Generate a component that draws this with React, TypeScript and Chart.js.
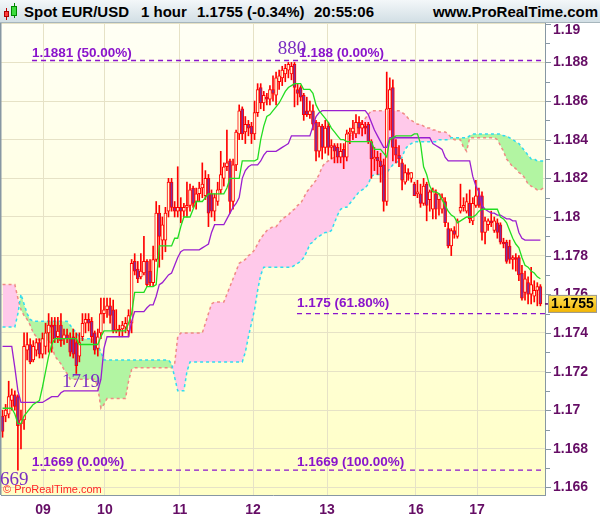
import React, { useEffect, useRef } from 'react';
import { Chart, registerables } from 'chart.js';

Chart.register(...registerables);

// ---- Candles (hourly EUR/USD) ----
const OPEN = [
  1.1697, 1.1697, 1.1698, 1.1705, 1.1708, 1.1707, 1.1693, 1.1695, 1.1731, 1.1734,
  1.1726, 1.1731, 1.1735, 1.1729, 1.1733, 1.1740, 1.1744, 1.1744, 1.1738, 1.1744,
  1.1737, 1.1739, 1.1737, 1.1738, 1.1735, 1.1728, 1.1738, 1.1745, 1.1747, 1.1746,
  1.1740, 1.1732, 1.1740, 1.1750, 1.1752, 1.1754, 1.1752, 1.1741, 1.1742, 1.1742,
  1.1743, 1.1741, 1.1745, 1.1777, 1.1773, 1.1769, 1.1771, 1.1777, 1.1772, 1.1766,
  1.1778, 1.1802, 1.1788, 1.1788, 1.1803, 1.1818, 1.1805, 1.1803, 1.1805, 1.1803,
  1.1805, 1.1806, 1.1815, 1.1808, 1.1812, 1.1815, 1.1811, 1.1820, 1.1812, 1.1803,
  1.1808, 1.1814, 1.1820, 1.1826, 1.1829, 1.1808, 1.1827, 1.1843, 1.1856, 1.1844,
  1.1848, 1.1847, 1.1843, 1.1854, 1.1867, 1.1859, 1.1862, 1.1861, 1.1866, 1.1863,
  1.1870, 1.1872, 1.1874, 1.1876, 1.1874, 1.1879, 1.1866, 1.1867, 1.1863, 1.1855,
  1.1853, 1.1855, 1.1849, 1.1834, 1.1847, 1.1836, 1.1847, 1.1836, 1.1837, 1.1836,
  1.1831, 1.1835, 1.1831, 1.1843, 1.1844, 1.1843, 1.1849, 1.1846, 1.1847, 1.1848,
  1.1839, 1.1830, 1.1831, 1.1829, 1.1827, 1.1808, 1.1856, 1.1867, 1.1836, 1.1832,
  1.1828, 1.1818, 1.1823, 1.1820, 1.1817, 1.1812, 1.1812, 1.1807, 1.1817, 1.1809,
  1.1804, 1.1812, 1.1809, 1.1804, 1.1808, 1.1794, 1.1785, 1.1793, 1.1790, 1.1803,
  1.1805, 1.1803, 1.1807, 1.1798, 1.1806, 1.1811, 1.1811, 1.1792, 1.1796, 1.1798,
  1.1793, 1.1797, 1.1796, 1.1787, 1.1787, 1.1785, 1.1778, 1.1779, 1.1779, 1.1771,
  1.1761, 1.1766, 1.1760, 1.1759, 1.1762, 1.1764,
];
const HIGH = [
  1.1700, 1.1703, 1.1715, 1.1711, 1.1710, 1.1708, 1.1700, 1.1740, 1.1740, 1.1737,
  1.1736, 1.1737, 1.1737, 1.1740, 1.1745, 1.1750, 1.1748, 1.1748, 1.1748, 1.1750,
  1.1742, 1.1742, 1.1740, 1.1742, 1.1740, 1.1740, 1.1750, 1.1750, 1.1750, 1.1748,
  1.1741, 1.1742, 1.1758, 1.1758, 1.1758, 1.1758, 1.1757, 1.1752, 1.1744, 1.1746,
  1.1748, 1.1752, 1.1778, 1.1781, 1.1777, 1.1781, 1.1790, 1.1778, 1.1778, 1.1785,
  1.1808, 1.1806, 1.1800, 1.1805, 1.1820, 1.1820, 1.1808, 1.1826, 1.1810, 1.1807,
  1.1818, 1.1817, 1.1816, 1.1815, 1.1818, 1.1828, 1.1824, 1.1822, 1.1814, 1.1812,
  1.1818, 1.1834, 1.1828, 1.1845, 1.1830, 1.1830, 1.1845, 1.1858, 1.1857, 1.1852,
  1.1850, 1.1849, 1.1860, 1.1869, 1.1869, 1.1865, 1.1864, 1.1868, 1.1873, 1.1875,
  1.1876, 1.1878, 1.1879, 1.1880, 1.1880, 1.1880, 1.1869, 1.1868, 1.1864, 1.1862,
  1.1860, 1.1858, 1.1850, 1.1849, 1.1848, 1.1850, 1.1849, 1.1840, 1.1838, 1.1838,
  1.1838, 1.1838, 1.1845, 1.1846, 1.1850, 1.1853, 1.1852, 1.1850, 1.1849, 1.1849,
  1.1840, 1.1836, 1.1834, 1.1833, 1.1830, 1.1875, 1.1872, 1.1871, 1.1840, 1.1837,
  1.1830, 1.1827, 1.1825, 1.1823, 1.1818, 1.1819, 1.1817, 1.1820, 1.1818, 1.1814,
  1.1815, 1.1814, 1.1812, 1.1812, 1.1810, 1.1797, 1.1794, 1.1795, 1.1799, 1.1817,
  1.1810, 1.1812, 1.1814, 1.1810, 1.1819, 1.1815, 1.1813, 1.1800, 1.1799, 1.1803,
  1.1800, 1.1799, 1.1797, 1.1789, 1.1788, 1.1788, 1.1780, 1.1781, 1.1780, 1.1775,
  1.1772, 1.1769, 1.1774, 1.1767, 1.1766, 1.1765,
];
const LOW = [
  1.1686, 1.1694, 1.1696, 1.1700, 1.1700, 1.1669, 1.1680, 1.1690, 1.1726, 1.1724,
  1.1725, 1.1728, 1.1727, 1.1727, 1.1729, 1.1730, 1.1730, 1.1735, 1.1735, 1.1733,
  1.1734, 1.1735, 1.1728, 1.1727, 1.1719, 1.1725, 1.1736, 1.1740, 1.1741, 1.1735,
  1.1729, 1.1728, 1.1737, 1.1745, 1.1748, 1.1745, 1.1740, 1.1740, 1.1738, 1.1738,
  1.1740, 1.1738, 1.1740, 1.1770, 1.1766, 1.1768, 1.1770, 1.1764, 1.1764, 1.1764,
  1.1777, 1.1774, 1.1778, 1.1782, 1.1800, 1.1803, 1.1800, 1.1800, 1.1797, 1.1800,
  1.1800, 1.1803, 1.1805, 1.1804, 1.1808, 1.1810, 1.1809, 1.1795, 1.1800, 1.1798,
  1.1806, 1.1812, 1.1816, 1.1824, 1.1802, 1.1804, 1.1824, 1.1840, 1.1840, 1.1838,
  1.1842, 1.1838, 1.1840, 1.1852, 1.1856, 1.1855, 1.1858, 1.1858, 1.1860, 1.1858,
  1.1866, 1.1868, 1.1870, 1.1872, 1.1871, 1.1857, 1.1858, 1.1860, 1.1850, 1.1852,
  1.1851, 1.1845, 1.1829, 1.1831, 1.1830, 1.1833, 1.1832, 1.1830, 1.1828, 1.1828,
  1.1828, 1.1825, 1.1829, 1.1838, 1.1840, 1.1841, 1.1843, 1.1842, 1.1843, 1.1838,
  1.1820, 1.1824, 1.1822, 1.1818, 1.1803, 1.1806, 1.1845, 1.1829, 1.1828, 1.1826,
  1.1814, 1.1817, 1.1819, 1.1818, 1.1811, 1.1810, 1.1805, 1.1806, 1.1798, 1.1803,
  1.1799, 1.1799, 1.1801, 1.1802, 1.1795, 1.1784, 1.1780, 1.1789, 1.1789, 1.1802,
  1.1803, 1.1802, 1.1797, 1.1796, 1.1805, 1.1805, 1.1788, 1.1786, 1.1793, 1.1795,
  1.1792, 1.1789, 1.1786, 1.1784, 1.1776, 1.1776, 1.1773, 1.1772, 1.1767, 1.1757,
  1.1757, 1.1755, 1.1755, 1.1756, 1.1754, 1.1754,
];
const CLOSE = [
  1.1689, 1.1700, 1.1707, 1.1708, 1.1702, 1.1692, 1.1695, 1.1733, 1.1734, 1.1725,
  1.1733, 1.1735, 1.1729, 1.1737, 1.1740, 1.1744, 1.1743, 1.1737, 1.1741, 1.1736,
  1.1739, 1.1737, 1.1730, 1.1729, 1.1723, 1.1735, 1.1745, 1.1747, 1.1745, 1.1738,
  1.1731, 1.1738, 1.1750, 1.1752, 1.1754, 1.1749, 1.1741, 1.1742, 1.1741, 1.1744,
  1.1745, 1.1749, 1.1776, 1.1772, 1.1768, 1.1772, 1.1777, 1.1765, 1.1766, 1.1778,
  1.1802, 1.1790, 1.1796, 1.1802, 1.1818, 1.1805, 1.1803, 1.1805, 1.1803, 1.1805,
  1.1806, 1.1814, 1.1807, 1.1812, 1.1815, 1.1817, 1.1820, 1.1802, 1.1803, 1.1810,
  1.1814, 1.1822, 1.1826, 1.1828, 1.1808, 1.1827, 1.1844, 1.1855, 1.1843, 1.1848,
  1.1846, 1.1843, 1.1854, 1.1866, 1.1859, 1.1863, 1.1861, 1.1866, 1.1864, 1.1872,
  1.1873, 1.1876, 1.1877, 1.1879, 1.1878, 1.1867, 1.1864, 1.1862, 1.1853, 1.1853,
  1.1855, 1.1848, 1.1834, 1.1847, 1.1836, 1.1846, 1.1836, 1.1837, 1.1834, 1.1831,
  1.1834, 1.1831, 1.1843, 1.1844, 1.1846, 1.1849, 1.1846, 1.1848, 1.1846, 1.1839,
  1.1830, 1.1831, 1.1829, 1.1826, 1.1808, 1.1856, 1.1866, 1.1836, 1.1832, 1.1830,
  1.1819, 1.1823, 1.1822, 1.1823, 1.1811, 1.1813, 1.1807, 1.1816, 1.1806, 1.1813,
  1.1814, 1.1804, 1.1812, 1.1810, 1.1797, 1.1785, 1.1793, 1.1791, 1.1798, 1.1805,
  1.1806, 1.1808, 1.1799, 1.1807, 1.1811, 1.1806, 1.1792, 1.1798, 1.1798, 1.1797,
  1.1798, 1.1792, 1.1787, 1.1786, 1.1777, 1.1778, 1.1779, 1.1778, 1.1770, 1.1758,
  1.1768, 1.1760, 1.1765, 1.1762, 1.1764, 1.1755,
];

// ---- Ichimoku lines ----
const TENKAN = [
  1.1701, 1.1701, 1.1701, 1.1701, 1.1698, 1.1693, 1.1693, 1.1697, 1.1699, 1.1701,
  1.1703, 1.1704, 1.1705, 1.1712, 1.1720, 1.1728, 1.1734, 1.1737, 1.1737, 1.1737,
  1.1737, 1.1737, 1.1737, 1.1737, 1.1737, 1.1734, 1.1734, 1.1734, 1.1734, 1.1734,
  1.1734, 1.1734, 1.1738, 1.1741, 1.1741, 1.1741, 1.1741, 1.1741, 1.1741, 1.1741,
  1.1741, 1.1745, 1.1750, 1.1761, 1.1761, 1.1761, 1.1761, 1.1764, 1.1764, 1.1764,
  1.1765, 1.1785, 1.1785, 1.1785, 1.1785, 1.1785, 1.1789, 1.1789, 1.1795, 1.1800,
  1.1800, 1.1800, 1.1804, 1.1808, 1.1808, 1.1808, 1.1810, 1.1812, 1.1812, 1.1812,
  1.1812, 1.1812, 1.1812, 1.1815, 1.1820, 1.1820, 1.1820, 1.1820, 1.1829, 1.1829,
  1.1829, 1.1829, 1.1829, 1.1830, 1.1840, 1.1847, 1.1852, 1.1853, 1.1855, 1.1857,
  1.1859, 1.1862, 1.1865, 1.1867, 1.1868, 1.1869, 1.1869, 1.1869, 1.1866, 1.1866,
  1.1866, 1.1864, 1.1858, 1.1855, 1.1853, 1.1851, 1.1849, 1.1846, 1.1844, 1.1842,
  1.1840, 1.1840, 1.1839, 1.1839, 1.1839, 1.1839, 1.1839, 1.1839, 1.1839, 1.1839,
  1.1839, 1.1835, 1.1835, 1.1835, 1.1833, 1.1831, 1.1840, 1.1841, 1.1842, 1.1842,
  1.1842, 1.1842, 1.1842, 1.1842, 1.1843, 1.1843, 1.1838, 1.1826, 1.1822, 1.1816,
  1.1813, 1.1813, 1.1812, 1.1809, 1.1806, 1.1803, 1.1801, 1.1800, 1.1797, 1.1798,
  1.1799, 1.1800, 1.1800, 1.1800, 1.1801, 1.1803, 1.1804, 1.1804, 1.1804, 1.1804,
  1.1804, 1.1804, 1.1800, 1.1799, 1.1797, 1.1793, 1.1789, 1.1786, 1.1784, 1.1779,
  1.1775, 1.1774, 1.1772, 1.1771, 1.1769, 1.1768,
];
const KIJUN = [
  1.1733, 1.1733, 1.1733, 1.1733, 1.1722, 1.1710, 1.1704, 1.1704, 1.1704, 1.1704,
  1.1704, 1.1704, 1.1704, 1.1704, 1.1705, 1.1706, 1.1707, 1.1707, 1.1707, 1.1709,
  1.1710, 1.1710, 1.1710, 1.1710, 1.1710, 1.1710, 1.1710, 1.1710, 1.1710, 1.1710,
  1.1710, 1.1710, 1.1716, 1.1732, 1.1738, 1.1738, 1.1738, 1.1738, 1.1738, 1.1738,
  1.1738, 1.1738, 1.1746, 1.1751, 1.1751, 1.1751, 1.1751, 1.1753, 1.17545, 1.17545,
  1.1759, 1.1765, 1.1766, 1.1768, 1.1770, 1.1771, 1.1775, 1.1779, 1.1782, 1.1783,
  1.1783, 1.1783, 1.1783, 1.1783, 1.1783, 1.1784, 1.1785, 1.1786, 1.1792, 1.1796,
  1.1796, 1.1796, 1.1796, 1.1799, 1.1802, 1.1805, 1.1807, 1.1810, 1.1820, 1.1824,
  1.1826, 1.1827, 1.1827, 1.1827, 1.1829, 1.1832, 1.1834, 1.1834, 1.1834, 1.1834,
  1.1835, 1.1836, 1.1837, 1.1838, 1.1842, 1.1842, 1.1842, 1.1842, 1.1842, 1.1842,
  1.1842, 1.1847, 1.1852, 1.1854, 1.1855, 1.1855, 1.1855, 1.1855, 1.1855, 1.1855,
  1.1855, 1.1855, 1.1855, 1.1855, 1.1855, 1.1855, 1.1855, 1.1855, 1.1855, 1.1853,
  1.1849, 1.1845, 1.1842, 1.1839, 1.1836, 1.1836, 1.1841, 1.1841, 1.1841, 1.1841,
  1.1841, 1.1841, 1.1841, 1.1841, 1.1841, 1.1841, 1.1841, 1.1841, 1.1841, 1.1841,
  1.1838, 1.1837, 1.1836, 1.1835, 1.1831, 1.1829, 1.1829, 1.1829, 1.1829, 1.1829,
  1.1829, 1.1829, 1.1829, 1.1821, 1.1816, 1.1813, 1.1806, 1.1804, 1.1803, 1.1802,
  1.1802, 1.1801, 1.1801, 1.1800, 1.1799, 1.1799, 1.1798, 1.1798, 1.1792, 1.1789,
  1.1788, 1.1788, 1.1788, 1.1788, 1.1788, 1.1788,
];
const SENKOU_A = [
  1.1743, 1.1743, 1.1743, 1.1743, 1.1743, 1.1750, 1.1760, 1.1755, 1.1750, 1.1747,
  1.1746, 1.1746, 1.1746, 1.1746, 1.1746, 1.1746, 1.1746, 1.1746, 1.1746, 1.1746,
  1.1746, 1.1746, 1.1744, 1.1742, 1.1740, 1.1738, 1.1737, 1.1737, 1.1737, 1.1737,
  1.1737, 1.1734, 1.1730, 1.1726, 1.1726, 1.1726, 1.1726, 1.1726, 1.1726, 1.1726,
  1.1726, 1.1726, 1.1726, 1.1726, 1.1726, 1.1726, 1.1726, 1.1726, 1.1726, 1.1726,
  1.1726, 1.1726, 1.1726, 1.1726, 1.1726, 1.1724, 1.1717, 1.1710, 1.1710, 1.1710,
  1.1720, 1.1725, 1.1725, 1.1725, 1.1725, 1.1725, 1.1725, 1.1725, 1.1725, 1.1725,
  1.1725, 1.1725, 1.1725, 1.1725, 1.1725, 1.1725, 1.1725, 1.1725, 1.1725, 1.1730,
  1.1738, 1.1745, 1.1752, 1.1762, 1.1770, 1.1774, 1.1774, 1.1774, 1.1774, 1.1774,
  1.1774, 1.1774, 1.1774, 1.1774, 1.1774, 1.1775, 1.1776, 1.1777, 1.1779, 1.1782,
  1.1786, 1.1787, 1.1789, 1.1790, 1.1791, 1.1792, 1.1792, 1.1793, 1.1797, 1.1801,
  1.1804, 1.1805, 1.1805, 1.1807, 1.1809, 1.1811, 1.1813, 1.1814, 1.1815, 1.1817,
  1.1821, 1.1822, 1.1822, 1.1822, 1.1822, 1.1823, 1.1825, 1.1827, 1.1828, 1.1829,
  1.1831, 1.1835, 1.1837, 1.1838, 1.1839, 1.1839, 1.1839, 1.1839, 1.1839, 1.1839,
  1.1839, 1.1839, 1.1840, 1.1840, 1.1840, 1.1840, 1.1841, 1.1841, 1.1841, 1.1841,
  1.1841, 1.1841, 1.1842, 1.1843, 1.1843, 1.1843, 1.1843, 1.1843, 1.1843, 1.1843,
  1.1843, 1.1843, 1.1843, 1.1842, 1.1842, 1.1841, 1.1840, 1.1839, 1.1838, 1.1836,
  1.1834, 1.1832, 1.1830, 1.1830, 1.1829, 1.1829, 1.1829,
];
const SENKOU_B = [
  1.1765, 1.1765, 1.1765, 1.1765, 1.1765, 1.1758, 1.1752, 1.1749, 1.1747, 1.1744,
  1.1740, 1.1738, 1.1736, 1.1736, 1.1736, 1.1736, 1.1734, 1.1728, 1.1726, 1.1724,
  1.1721, 1.1719, 1.1716, 1.1716, 1.1716, 1.1716, 1.1716, 1.1716, 1.1716, 1.1716,
  1.1716, 1.1712, 1.1701, 1.1703, 1.1706, 1.1706, 1.1706, 1.1706, 1.1706, 1.1706,
  1.1706, 1.1715, 1.1721, 1.1722, 1.1722, 1.1722, 1.1722, 1.1722, 1.1722, 1.1722,
  1.1722, 1.1722, 1.1722, 1.1722, 1.1722, 1.1722, 1.1724, 1.1738, 1.1740, 1.1740,
  1.1740, 1.1740, 1.1740, 1.1740, 1.1740, 1.1740, 1.1745, 1.1750, 1.1755, 1.1756,
  1.1756, 1.1756, 1.1756, 1.1760, 1.1764, 1.1768, 1.1772, 1.1776, 1.1777, 1.1778,
  1.1780, 1.1781, 1.1783, 1.1786, 1.1789, 1.1791, 1.1793, 1.1794, 1.1795, 1.1795,
  1.1797, 1.1799, 1.1800, 1.1801, 1.1803, 1.1804, 1.1806, 1.1807, 1.1810, 1.1813,
  1.1815, 1.1817, 1.1819, 1.1822, 1.1826, 1.1828, 1.1829, 1.1830, 1.1831, 1.1832,
  1.1833, 1.1834, 1.1840, 1.1842, 1.1843, 1.1845, 1.1847, 1.1849, 1.1851, 1.1853,
  1.1855, 1.1855, 1.1855, 1.1855, 1.1855, 1.1855, 1.1855, 1.1855, 1.1855, 1.1855,
  1.1854, 1.1853, 1.1851, 1.1850, 1.1849, 1.1848, 1.1848, 1.1847, 1.1846, 1.1846,
  1.1845, 1.1845, 1.1844, 1.1844, 1.1844, 1.1843, 1.1841, 1.1840, 1.1840, 1.1840,
  1.1836, 1.1834, 1.1841, 1.1841, 1.1841, 1.1841, 1.1841, 1.1841, 1.1841, 1.1841,
  1.1841, 1.1840, 1.1837, 1.1834, 1.1830, 1.1828, 1.1826, 1.1825, 1.1823, 1.1822,
  1.1820, 1.1817, 1.1816, 1.1815, 1.1814, 1.1814, 1.1815,
];

// ---- Axes ----
const DAY_TICKS = [13.2, 33.3, 57.7, 81.5, 105.6, 134.5, 154.4];
const DAY_LABELS = ['09', '10', '11', '12', '13', '16', '17'];
const PRICE_TICKS = [1.166, 1.168, 1.17, 1.172, 1.174, 1.176, 1.178, 1.18, 1.182, 1.184, 1.186, 1.188, 1.19];
const MINOR_TICKS = [1.167, 1.169, 1.171, 1.173, 1.175, 1.177, 1.179, 1.181, 1.183, 1.185, 1.187, 1.189];
const X_MIN = -0.5;
const X_MAX = 176.5;
const Y_MIN = 1.16561;
const Y_MAX = 1.19004;
const LAST_PRICE = 1.1755;

// ---- Fibonacci / annotations ----
const FIB_LINES = [
  { level: 1.1881, start: 9.6 },
  { level: 1.175, start: 95.8 },
  { level: 1.1669, start: 9.6 },
];
const FIB_LABELS = [
  { text: '1.1881 (50.00%)', x: 9.6, y: 1.18848 },
  { text: '1.188 (0.00%)', x: 96.5, y: 1.18848 },
  { text: '1.175 (61.80%)', x: 95.8, y: 1.17552 },
  { text: '1.1669 (0.00%)', x: 9.6, y: 1.16732 },
  { text: '1.1669 (100.00%)', x: 95.8, y: 1.16732 },
];
const EXTREME_LABELS = [
  { text: '880', x: 94.2, y: 1.18869, align: 'center' },
  { text: '1719', x: 25.5, y: 1.17146, align: 'center' },
  { text: '669', x: -0.83, y: 1.16639, align: 'left' },
];

const AXIS_TEXT = '#650d65';
const FIB_COLOR = '#8a14cc';
const GRID = '#e6e2c6';
const SANS = '"Liberation Sans", Arial, sans-serif';

export default function App() {
  const ref = useRef<HTMLCanvasElement>(null);

  useEffect(() => {
    document.body.style.margin = '0';
    const canvas = ref.current;
    if (!canvas) return;

    const wick = OPEN.map((_o, i) => ({ x: i, y: [LOW[i], HIGH[i]] }));
    const body = OPEN.map((o, i) => {
      const lo = Math.min(o, CLOSE[i]);
      let hi = Math.max(o, CLOSE[i]);
      if (hi - lo < 0.00004) hi = lo + 0.00004;
      return { x: i, y: [lo, hi] };
    });
    const line = (arr: number[]) => arr.map((v, i) => ({ x: i, y: v }));

    const bgPlugin = {
      id: 'bgPlugin',
      beforeDraw(chart: any) {
        const { ctx, chartArea: a, width, height } = chart;
        ctx.save();
        ctx.fillStyle = '#ffffff';
        ctx.fillRect(0, 0, width, height);
        const g = ctx.createLinearGradient(0, a.top, 0, a.bottom);
        g.addColorStop(0, '#fffff5');
        g.addColorStop(1, '#ffffc6');
        ctx.fillStyle = g;
        ctx.fillRect(a.left, a.top, a.right - a.left, a.bottom - a.top);
        ctx.restore();
      },
    };

    const overlayPlugin = {
      id: 'overlayPlugin',
      afterDraw(chart: any) {
        const { ctx, chartArea: a } = chart;
        const xs = chart.scales.x;
        const ys = chart.scales.y;
        ctx.save();
        // left border
        ctx.fillStyle = '#8797a3';
        ctx.fillRect(0, 0, 1.5, a.bottom);

        // annotation texts
        ctx.textBaseline = 'middle';
        ctx.fillStyle = FIB_COLOR;
        ctx.font = `bold 13.5px ${SANS}`;
        ctx.textAlign = 'left';
        FIB_LABELS.forEach((l) => {
          ctx.fillText(l.text, xs.getPixelForValue(l.x), ys.getPixelForValue(l.y));
        });
        ctx.fillStyle = '#7a2ec2';
        ctx.font = '19px "Liberation Serif", "DejaVu Serif", serif';
        EXTREME_LABELS.forEach((l) => {
          ctx.textAlign = l.align as CanvasTextAlign;
          ctx.fillText(l.text, xs.getPixelForValue(l.x), ys.getPixelForValue(l.y));
        });
        ctx.textAlign = 'left';
        ctx.fillStyle = '#ff2424';
        ctx.font = `11px ${SANS}`;
        ctx.fillText('\u00A9 ProRealTime.com', 3, a.bottom - 5);

        // y tick marks and labels
        ctx.strokeStyle = '#8797a3';
        ctx.lineWidth = 1;
        MINOR_TICKS.forEach((v) => {
          const y = Math.round(ys.getPixelForValue(v)) + 0.5;
          ctx.beginPath();
          ctx.moveTo(a.right, y);
          ctx.lineTo(a.right + 5, y);
          ctx.stroke();
        });
        ctx.fillStyle = AXIS_TEXT;
        ctx.font = `bold 14px ${SANS}`;
        PRICE_TICKS.forEach((v) => {
          const y = Math.round(ys.getPixelForValue(v)) + 0.5;
          ctx.beginPath();
          ctx.moveTo(a.right, y);
          ctx.lineTo(a.right + 6, y);
          ctx.stroke();
          const ly = Math.max(y, a.top + 7);
          ctx.fillText(String(Number(v.toFixed(3))), a.right + 8, ly);
        });

        // x labels
        ctx.textAlign = 'center';
        DAY_TICKS.forEach((v, i) => {
          ctx.fillText(DAY_LABELS[i], xs.getPixelForValue(v), a.bottom + 15);
        });

        // last price box
        const py = ys.getPixelForValue(LAST_PRICE);
        ctx.strokeStyle = '#5a0a6a';
        ctx.lineWidth = 1.5;
        ctx.beginPath();
        ctx.moveTo(a.right, py);
        ctx.lineTo(a.right + 4, py);
        ctx.stroke();
        const bx = a.right + 3;
        const bw = 49;
        const bh = 18;
        const g = ctx.createLinearGradient(0, py - bh / 2, 0, py + bh / 2);
        g.addColorStop(0, '#ffe25a');
        g.addColorStop(1, '#f2b400');
        ctx.fillStyle = g;
        ctx.fillRect(bx, py - bh / 2, bw, bh);
        ctx.strokeStyle = '#9a9a9a';
        ctx.lineWidth = 1;
        ctx.strokeRect(bx + 0.5, py - bh / 2 + 0.5, bw - 1, bh - 1);
        ctx.fillStyle = '#000000';
        ctx.font = `bold 14px ${SANS}`;
        ctx.textAlign = 'center';
        ctx.fillText(LAST_PRICE.toFixed(4), bx + bw / 2, py + 0.5);
        ctx.restore();
      },
    };

    const fibDatasets = FIB_LINES.map((f) => ({
      type: 'line' as const,
      data: [
        { x: f.start, y: f.level },
        { x: X_MAX, y: f.level },
      ],
      borderColor: FIB_COLOR,
      borderWidth: 1.3,
      borderDash: [5, 4],
      pointRadius: 0,
      fill: false,
      order: 0,
    }));

    const chart = new Chart(canvas, {
      type: 'bar',
      data: {
        datasets: [
          ...fibDatasets, // 0,1,2
          {
            type: 'line',
            data: line(TENKAN),
            borderColor: '#22dd22',
            borderWidth: 1.3,
            pointRadius: 0,
            fill: false,
            tension: 0,
            order: 1,
          } as any, // 3
          {
            type: 'line',
            data: line(KIJUN),
            borderColor: '#9a1fd0',
            borderWidth: 1.3,
            pointRadius: 0,
            fill: false,
            tension: 0,
            order: 1,
          } as any, // 4
          {
            type: 'bar',
            data: body,
            barThickness: 3,
            grouped: false,
            borderWidth: 1,
            borderSkipped: false,
            borderColor: '#ff0000',
            backgroundColor: (c: any) =>
              CLOSE[c.dataIndex] >= OPEN[c.dataIndex] ? '#ffffdc' : '#80309c',
            order: 2,
          } as any, // 5
          {
            type: 'bar',
            data: wick,
            barThickness: 1,
            grouped: false,
            borderWidth: 0,
            backgroundColor: '#ff0000',
            order: 3,
          } as any, // 6
          {
            type: 'line',
            data: line(SENKOU_A),
            borderColor: '#30dcf0',
            borderWidth: 1.5,
            borderDash: [3, 3],
            pointRadius: 0,
            fill: false,
            tension: 0,
            order: 9,
          } as any, // 7
          {
            type: 'line',
            data: line(SENKOU_B),
            borderColor: '#f08a84',
            borderWidth: 1.5,
            borderDash: [3, 3],
            pointRadius: 0,
            tension: 0,
            fill: { target: 7, above: '#ffc9ea', below: '#b2f5a2' },
            order: 10,
          } as any, // 8
        ],
      },
      options: {
        responsive: false,
        maintainAspectRatio: false,
        devicePixelRatio: 1,
        animation: false,
        events: [],
        layout: { padding: { left: 1, right: 0, top: 0, bottom: 0 }, autoPadding: false } as any,
        plugins: {
          legend: { display: false },
          tooltip: { enabled: false },
          filler: { propagate: false },
        },
        scales: {
          x: {
            type: 'linear',
            min: X_MIN,
            max: X_MAX,
            offset: false,
            grid: { color: GRID, lineWidth: 1, drawTicks: false, offset: false },
            border: { display: true, color: '#8797a3' },
            ticks: { display: false },
            afterBuildTicks: (s: any) => {
              s.ticks = DAY_TICKS.map((v) => ({ value: v }));
            },
            afterFit: (s: any) => {
              s.height = 24;
            },
          },
          y: {
            type: 'linear',
            position: 'right',
            min: Y_MIN,
            max: Y_MAX,
            grid: { color: GRID, lineWidth: 1, drawTicks: false },
            border: { display: true, color: '#8797a3' },
            ticks: { display: false },
            afterBuildTicks: (s: any) => {
              s.ticks = PRICE_TICKS.map((v) => ({ value: v }));
            },
            afterFit: (s: any) => {
              s.width = 55;
            },
          },
        } as any,
      },
      plugins: [bgPlugin, overlayPlugin],
    });

    return () => chart.destroy();
  }, []);

  const title: React.CSSProperties = {
    position: 'absolute',
    top: 0,
    lineHeight: '24px',
    fontWeight: 'bold',
    fontSize: 15,
    color: '#000',
    whiteSpace: 'nowrap',
  };

  return (
    <div style={{ position: 'relative', width: 600, height: 519, background: '#fff', fontFamily: SANS, overflow: 'hidden' }}>
      <div
        style={{
          position: 'absolute',
          left: 0,
          top: 0,
          width: 600,
          height: 23,
          boxSizing: 'border-box',
          background: 'linear-gradient(#f3f7f9, #d2dfe5)',
          borderBottom: '1px solid #a7b6bd',
        }}
      >
        <div style={{ position: 'absolute', left: 6, top: 8, width: 1, height: 12, background: '#b00' }} />
        <div style={{ position: 'absolute', left: 4, top: 11, width: 5, height: 6, background: '#ff3b3b', border: '1px solid #a00', boxSizing: 'border-box' }} />
        <div style={{ position: 'absolute', left: 14, top: 3, width: 1, height: 15, background: '#080' }} />
        <div style={{ position: 'absolute', left: 11, top: 6, width: 6, height: 10, background: '#3ddc3d', border: '1px solid #080', boxSizing: 'border-box' }} />
        <span style={{ ...title, left: 24 }}>Spot EUR/USD</span>
        <span style={{ ...title, left: 141 }}>1 hour</span>
        <span style={{ ...title, left: 197 }}>1.1755 (-0.34%)</span>
        <span style={{ ...title, left: 314 }}>20:55:06</span>
        <span style={{ ...title, right: 2 }}>www.ProRealTime.com</span>
      </div>
      <canvas ref={ref} width={600} height={496} style={{ position: 'absolute', left: 0, top: 23, display: 'block' }} />
    </div>
  );
}
